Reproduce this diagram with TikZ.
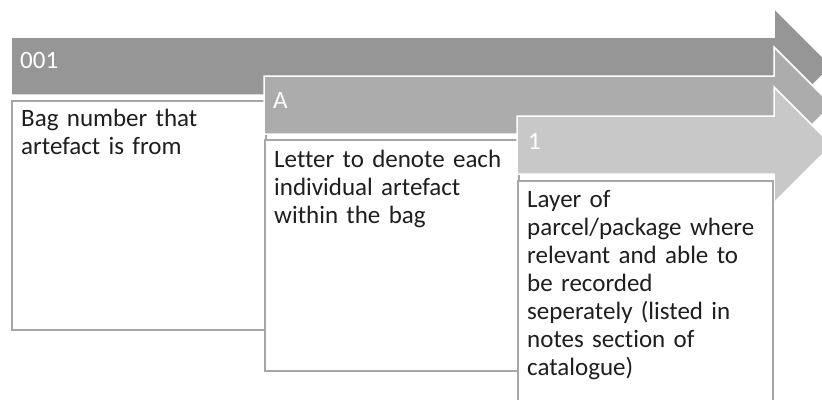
\documentclass[tikz,border=0pt]{standalone}
\usepackage{fontspec}
\setmainfont{Carlito}[Ligatures=CommonOff]
\definecolor{stagedark}{RGB}{150,150,150}
\definecolor{stagemid}{RGB}{172,172,172}
\definecolor{stagelight}{RGB}{200,200,200}
\definecolor{boxline}{RGB}{166,166,166}
\definecolor{notegray}{RGB}{30,30,30}

\begin{document}
\begin{tikzpicture}[x=1pt,y=-1pt,
    stagearrow/.style={draw=white,line width=1.5pt},
    notebox/.style={draw=boxline,fill=white,line width=2pt,
                    inner sep=0pt,anchor=north west},
    headlabel/.style={text=white,anchor=base west,inner sep=0pt,
                      font=\fontsize{25}{28}\selectfont},
    notetext/.style={text=notegray,anchor=base west,inner sep=0pt,
                     text width=240pt,align=left,
                     font=\fontsize{25}{28}\selectfont}]
%    \draw (0,0) rectangle (822,399);
    \useasboundingbox (0,0) rectangle (822,399);
    \clip (0,0) rectangle (822,399);
    % bag number
      \filldraw[stagearrow,fill=stagedark]
            (11,37) -- (774,37) -- (774,8) -- (832,66)
            -- (774,124) -- (774,95) -- (11,95) -- cycle;
      \node[headlabel] (lbl001) at (20,68) {001};
      \node[notebox,minimum width=254,minimum height=229] (box1) at (11,100) {};
      \node[notetext] (txt1) at ([shift={(10,26)}]box1.north west)
            {Bag number that\\artefact is from};
    % artefact letter
      \filldraw[stagearrow,fill=stagemid]
            (264,76) -- (774,76) -- (774,47) -- (832,105)
            -- (774,163) -- (774,134) -- (264,134) -- cycle;
      \node[headlabel] (lblA) at (273,108) {A};
      \node[notebox,minimum width=254,minimum height=231] (box2) at (264,139) {};
      \node[notetext] (txt2) at ([shift={(10,28)}]box2.north west)
            {Letter to denote each\\individual artefact\\within the bag};
    % layer
      \filldraw[stagearrow,fill=stagelight]
            (517,116) -- (774,116) -- (774,87) -- (832,145)
            -- (774,203) -- (774,174) -- (517,174) -- cycle;
      \node[headlabel] (lbl1) at (528,149) {1};
      \node[notebox,minimum width=255,minimum height=240] (box3) at (517,180) {};
      \node[notetext] (txt3) at ([shift={(10,27)}]box3.north west)
            {Layer of\\parcel/package where\\relevant and able to\\be recorded\\seperately (listed in\\notes section of\\catalogue)};
\end{tikzpicture}
\end{document}
